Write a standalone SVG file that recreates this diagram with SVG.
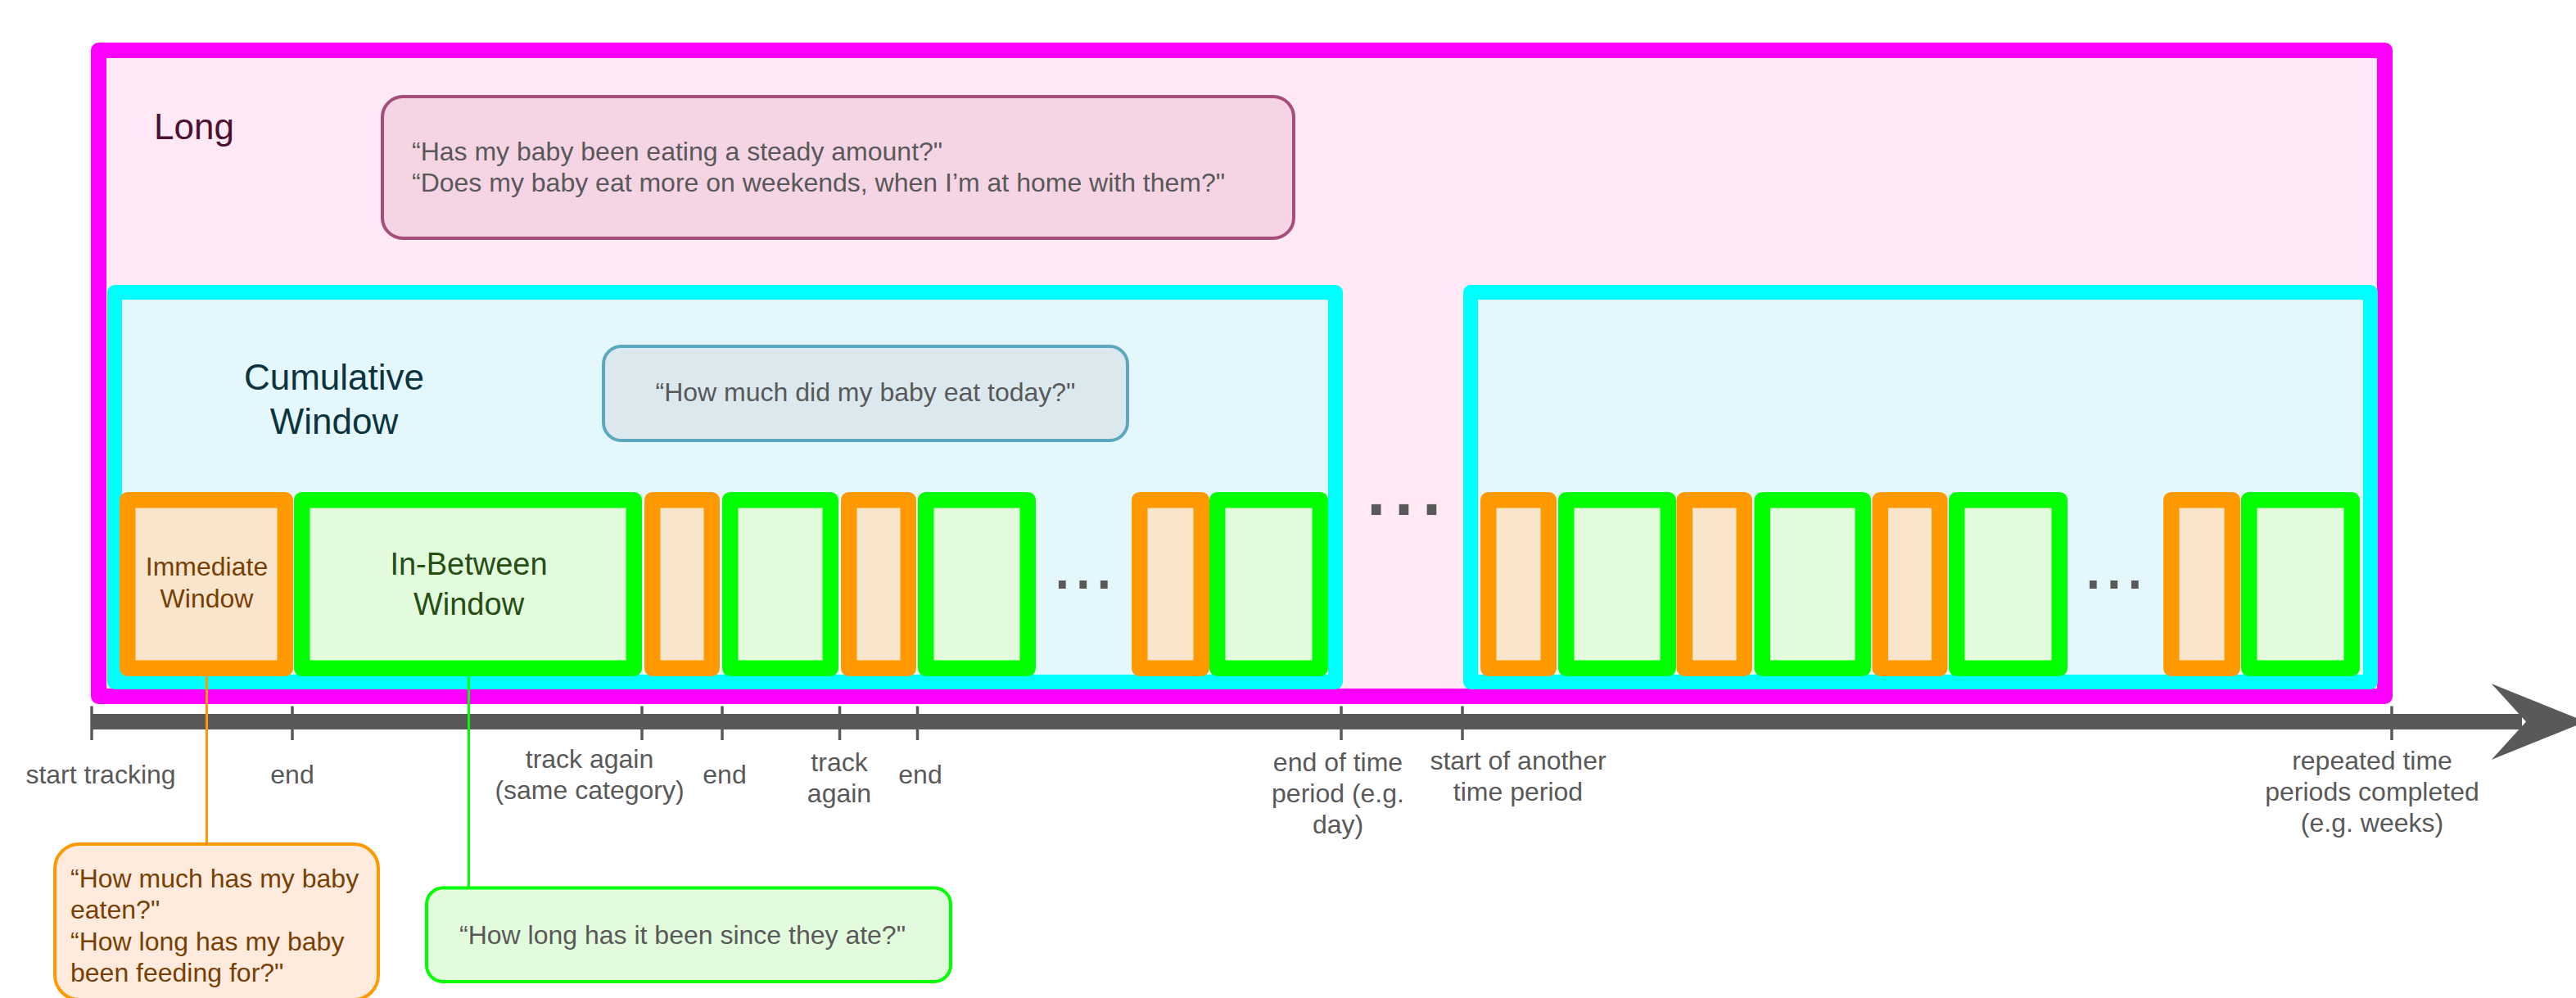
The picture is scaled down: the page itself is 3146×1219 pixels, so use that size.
<svg xmlns="http://www.w3.org/2000/svg" width="3146" height="1219" viewBox="0 0 3146 1219">
  <style>
    text { font-family: "Liberation Sans", Arial, sans-serif; }
    .long { fill: #ffe9f4; stroke: #ff00ff; stroke-width: 19; stroke-linejoin: round; }
    .cum { fill: #e4f7fc; stroke: #00ffff; stroke-width: 18; stroke-linejoin: round; }
    .imm { fill: #f9e4cc; stroke: #ff9900; stroke-width: 19.5; stroke-linejoin: round; }
    .btw { fill: #e3fbdd; stroke: #00ff00; stroke-width: 19.5; stroke-linejoin: round; }
    .q-long { fill: #f5d4e3; stroke: #a64d79; stroke-width: 4; }
    .q-cum { fill: #dbe9ee; stroke: #5ba7c0; stroke-width: 4; }
    .q-imm { fill: #feebdd; stroke: #ff9900; stroke-width: 4; }
    .q-btw { fill: #e3fbdd; stroke: #00ff00; stroke-width: 4; }
    .qt { font-size: 32px; fill: #595959; }
    .lbl { font-size: 32px; fill: #595959; text-anchor: middle; }
    .dots { fill: #595959; }
    .tick { stroke: #595959; stroke-width: 3.5; }
    .link { fill: none; stroke-width: 3; }
  </style>

  <!-- Long-term frame -->
  <g id="long-window">
    <rect class="long" x="120.5" y="61.5" width="2792" height="789"/>
    <text x="188" y="170" font-size="44" fill="#4c1130">Long</text>
  </g>
  <g id="long-question">
    <rect class="q-long" x="467" y="118" width="1113" height="173" rx="25"/>
    <text class="qt" x="503" y="196">“Has my baby been eating a steady amount?"</text>
    <text class="qt" x="503" y="234">“Does my baby eat more on weekends, when I’m at home with them?"</text>
  </g>

  <!-- Cumulative windows (one per time period) -->
  <g id="cumulative-window-1">
    <rect class="cum" x="140" y="357" width="1491" height="476"/>
    <text x="408" y="476" font-size="44" fill="#0c343d" text-anchor="middle">Cumulative</text>
    <text x="408" y="530" font-size="44" fill="#0c343d" text-anchor="middle">Window</text>
  </g>
  <g id="cumulative-window-2">
    <rect class="cum" x="1796" y="357" width="1099" height="476"/>
  </g>
  <g id="cumulative-question">
    <rect class="q-cum" x="737" y="423" width="640" height="115" rx="22"/>
    <text class="qt" x="1057" y="490" text-anchor="middle">“How much did my baby eat today?"</text>
  </g>

  <!-- Immediate / in-between windows, first period -->
  <g id="immediate-window">
    <rect class="imm" x="155.75" y="610.75" width="192.5" height="205.5"/>
    <text x="252.5" y="703" font-size="32" fill="#783f04" text-anchor="middle">Immediate</text>
    <text x="252.5" y="742" font-size="32" fill="#783f04" text-anchor="middle">Window</text>
  </g>
  <g id="in-between-window">
    <rect class="btw" x="368.75" y="610.75" width="405.5" height="205.5"/>
    <text x="572.5" y="702" font-size="38" fill="#274e13" text-anchor="middle">In-Between</text>
    <text x="572.5" y="751" font-size="38" fill="#274e13" text-anchor="middle">Window</text>
  </g>
  <g id="imm-2"><rect class="imm" x="796.75" y="610.75" width="72.5" height="205.5"/></g>
  <g id="btw-2"><rect class="btw" x="891.75" y="610.75" width="122.5" height="205.5"/></g>
  <g id="imm-3"><rect class="imm" x="1036.75" y="610.75" width="72.5" height="205.5"/></g>
  <g id="btw-3"><rect class="btw" x="1130.75" y="610.75" width="124.5" height="205.5"/></g>
  <g id="ellipsis-1"><text class="dots" x="1284.5" y="719" font-size="92">...</text></g>
  <g id="imm-4"><rect class="imm" x="1391.75" y="610.75" width="75.5" height="205.5"/></g>
  <g id="btw-4"><rect class="btw" x="1486.75" y="610.75" width="125.5" height="205.5"/></g>

  <g id="ellipsis-periods"><text class="dots" x="1663.7" y="629" font-size="122">...</text></g>

  <!-- Immediate / in-between windows, later period -->
  <g id="imm-5"><rect class="imm" x="1817.75" y="610.75" width="73.5" height="205.5"/></g>
  <g id="btw-5"><rect class="btw" x="1912.75" y="610.75" width="124.5" height="205.5"/></g>
  <g id="imm-6"><rect class="imm" x="2057.25" y="610.75" width="73" height="205.5"/></g>
  <g id="btw-6"><rect class="btw" x="2152.25" y="610.75" width="123" height="205.5"/></g>
  <g id="imm-7"><rect class="imm" x="2296.25" y="610.75" width="72.5" height="205.5"/></g>
  <g id="btw-7"><rect class="btw" x="2389.75" y="610.75" width="125.5" height="205.5"/></g>
  <g id="ellipsis-2"><text class="dots" x="2543.5" y="719" font-size="92">...</text></g>
  <g id="imm-8"><rect class="imm" x="2651.75" y="610.75" width="74.5" height="205.5"/></g>
  <g id="btw-8"><rect class="btw" x="2746.75" y="610.75" width="125.5" height="205.5"/></g>

  <!-- Time axis -->
  <g id="time-axis">
    <line x1="112" y1="881.5" x2="3080" y2="881.5" stroke="#595959" stroke-width="19"/>
    <path d="M3042.7 835 L3158 881.5 L3042.7 928 L3085 881.5 Z" fill="#595959"/>
    <line class="tick" x1="112" y1="862.5" x2="112" y2="904"/>
    <line class="tick" x1="357" y1="862.5" x2="357" y2="904"/>
    <line class="tick" x1="784" y1="862.5" x2="784" y2="904"/>
    <line class="tick" x1="882" y1="862.5" x2="882" y2="904"/>
    <line class="tick" x1="1025.5" y1="862.5" x2="1025.5" y2="904"/>
    <line class="tick" x1="1120.5" y1="862.5" x2="1120.5" y2="904"/>
    <line class="tick" x1="1638" y1="862.5" x2="1638" y2="904"/>
    <line class="tick" x1="1786" y1="862.5" x2="1786" y2="904"/>
    <line class="tick" x1="2921" y1="862.5" x2="2921" y2="904"/>
  </g>
  <g id="axis-labels">
    <text class="lbl" x="123" y="957">start tracking</text>
    <text class="lbl" x="357" y="957">end</text>
    <text class="lbl" x="720" y="938">track again</text>
    <text class="lbl" x="720" y="976">(same category)</text>
    <text class="lbl" x="885" y="957">end</text>
    <text class="lbl" x="1025" y="942">track</text>
    <text class="lbl" x="1025" y="980">again</text>
    <text class="lbl" x="1124" y="957">end</text>
    <text class="lbl" x="1634" y="942">end of time</text>
    <text class="lbl" x="1634" y="980">period (e.g.</text>
    <text class="lbl" x="1634" y="1018">day)</text>
    <text class="lbl" x="1854" y="940">start of another</text>
    <text class="lbl" x="1854" y="978">time period</text>
    <text class="lbl" x="2897" y="940">repeated time</text>
    <text class="lbl" x="2897" y="978">periods completed</text>
    <text class="lbl" x="2897" y="1016">(e.g. weeks)</text>
  </g>

  <!-- Connectors from windows to their questions -->
  <g id="connectors">
    <line class="link" x1="252.5" y1="826" x2="252.5" y2="1031" stroke="#ff9900"/>
    <line class="link" x1="572.5" y1="826" x2="572.5" y2="1084" stroke="#00ff00"/>
  </g>

  <!-- Question callouts -->
  <g id="immediate-question">
    <rect class="q-imm" x="67" y="1031" width="395" height="190" rx="30"/>
    <text class="qt" x="86" y="1084" fill="#783f04" style="fill:#783f04">“How much has my baby</text>
    <text class="qt" x="86" y="1122.4" style="fill:#783f04">eaten?"</text>
    <text class="qt" x="86" y="1160.8" style="fill:#783f04">“How long has my baby</text>
    <text class="qt" x="86" y="1199.2" style="fill:#783f04">been feeding for?"</text>
  </g>
  <g id="in-between-question">
    <rect class="q-btw" x="521" y="1084.5" width="640" height="114.5" rx="20"/>
    <text class="qt" x="561" y="1153">“How long has it been since they ate?"</text>
  </g>
</svg>
